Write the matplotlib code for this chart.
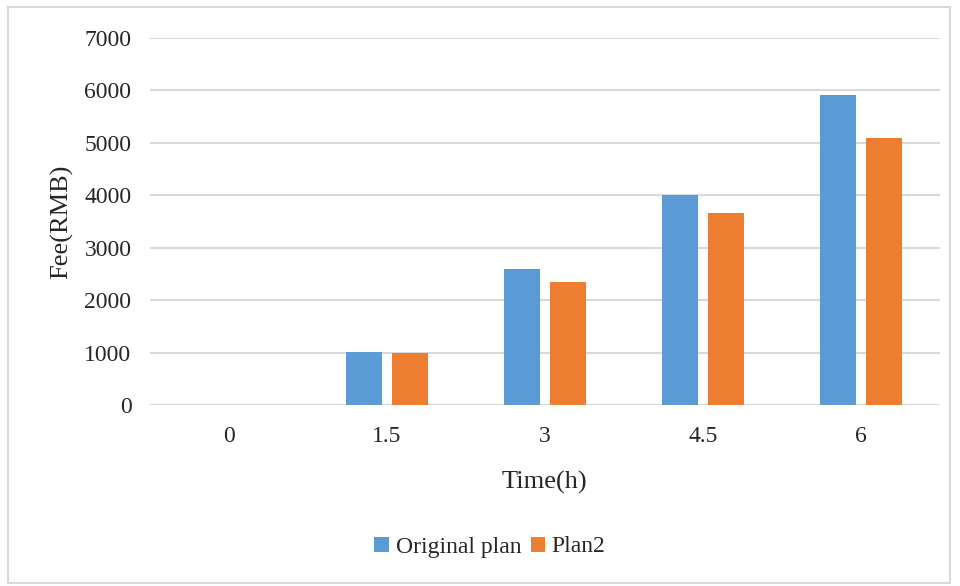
import matplotlib
matplotlib.use("Agg")
import matplotlib.pyplot as plt
import numpy as np
from matplotlib.patches import Rectangle

# Fee over time for the two plans
times = ["0", "1.5", "3", "4.5", "6"]
original_plan = [0, 1020, 2590, 4010, 5910]
plan2 = [0, 985, 2355, 3670, 5090]

plt.rcParams['font.family'] = ['Liberation Serif', 'DejaVu Serif']
text_color = '#262626'
grid_color = '#d9d9d9'

fig = plt.figure(figsize=(9.6, 5.86), dpi=100)
ax = fig.add_axes([149.5 / 960, 1 - 405 / 586, 790.5 / 960, 367 / 586])

x = np.arange(len(times))
width = 0.227
offset = 0.145
ax.bar(x - offset, original_plan, width, color='#5B9BD5', label='Original plan', zorder=3)
ax.bar(x + offset, plan2, width, color='#ED7D31', label='Plan2', zorder=3)

ax.set_xlim(-0.5, len(times) - 0.5)
ax.set_ylim(0, 7000)
ax.set_yticks(np.arange(0, 7001, 1000))
ax.set_xticks(x)
ax.set_xticklabels(times)

ax.yaxis.grid(True, color=grid_color, linewidth=1.5, zorder=0)
for side in ['top', 'right', 'left', 'bottom']:
    ax.spines[side].set_visible(False)
ax.axhline(0, color=grid_color, linewidth=1.5, zorder=1)
ax.tick_params(axis='both', length=0, labelsize=17, colors=text_color)
ax.tick_params(axis='y', pad=13)
ax.tick_params(axis='x', pad=15)

ax.set_xlabel('Time(h)', fontsize=19, color=text_color, labelpad=17)
ax.set_ylabel('Fee(RMB)', fontsize=19, color=text_color, labelpad=8)

fig.legend(loc='center', bbox_to_anchor=(490 / 960, 1 - 547 / 586), ncol=2,
           frameon=False, fontsize=17, handlelength=0.6, handleheight=0.6,
           handletextpad=0.3, columnspacing=0.4, labelcolor=text_color)

# light frame around the whole chart
fig.patches.append(Rectangle((8 / 960, 3 / 586), 942 / 960, 576 / 586,
                             transform=fig.transFigure, fill=False,
                             edgecolor=grid_color, linewidth=1.5))

fig.savefig('out.png', dpi=100)
